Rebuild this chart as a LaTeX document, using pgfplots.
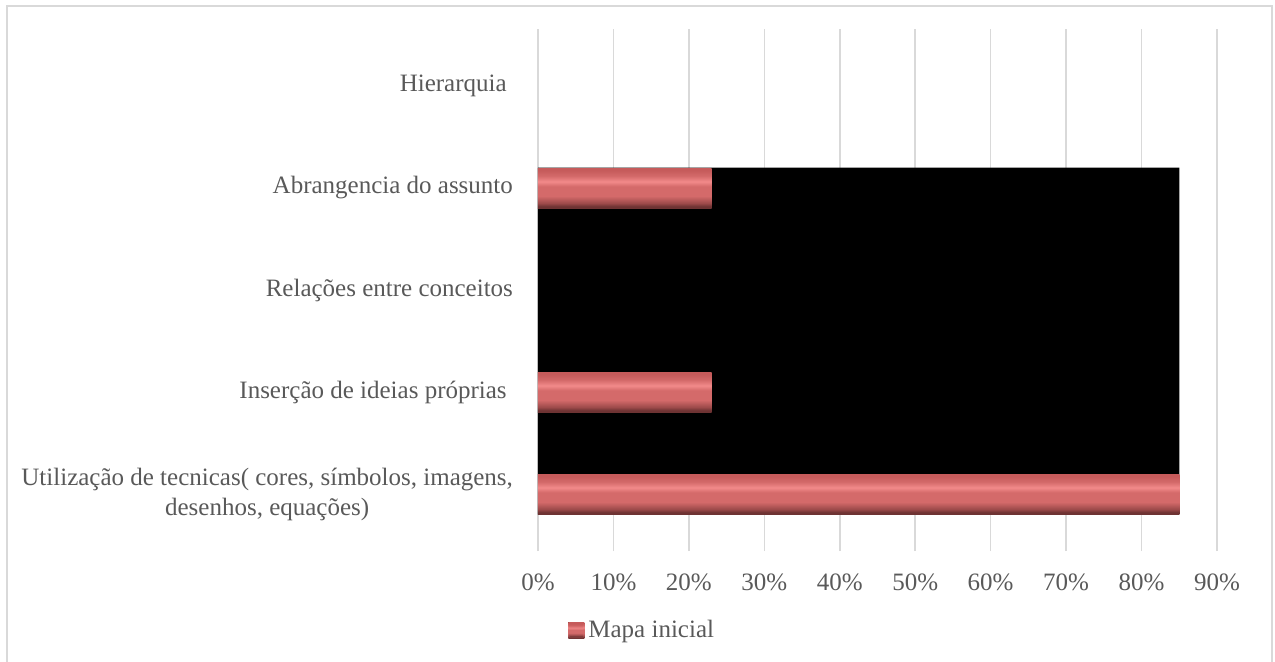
\documentclass[border=0pt]{standalone}
\usepackage{pgfplots}
\pgfplotsset{compat=1.18}
\usepackage{fontspec}
\setmainfont{Liberation Serif}
\definecolor{txt}{HTML}{595959}
\definecolor{gridc}{HTML}{D9D9D9}
\definecolor{bA}{HTML}{C65B5B}
\definecolor{bB}{HTML}{F28A8A}
\definecolor{bC}{HTML}{D46A6A}
\definecolor{bD}{HTML}{9C4A4A}
\definecolor{bE}{HTML}{6E3333}
\pgfdeclareverticalshading{bevel}{100bp}{color(0bp)=(bE); color(27bp)=(bE); color(31bp)=(bD); color(40bp)=(bC); color(52bp)=(bC); color(58bp)=(bB); color(65bp)=(bC); color(72bp)=(bA); color(100bp)=(bA)}
\pgfplotsset{bevelbar/.style={xbar, bar width=20pt, bar shift=0pt, draw=none, shading=bevel}}
\begin{document}
\begin{tikzpicture}
\path[use as bounding box] (0,0) rectangle (637.5pt,330.5pt);
\draw[gridc, line width=0.8pt] (3.5pt,-2pt) -- (3.5pt,327.5pt) -- (636pt,327.5pt) -- (636pt,-2pt);
\begin{axis}[
  at={(269pt,58pt)}, anchor=south west,
  scale only axis, width=339.5pt, height=255pt,
  xmin=0, xmax=90, ymin=-0.5, ymax=4.5,
  xtick={0,10,...,90},
  xticklabel={\pgfmathprintnumber{\tick}\%},
  xmajorgrids, grid style={gridc, line width=0.8pt},
  tick align=outside, major tick length=3pt,
  xtick style={gridc, line width=0.8pt},
  ytick={0,1,2,3,4},
  yticklabels={{Utilização de tecnicas( cores, símbolos, imagens,\\desenhos, equações)},{Inserção de ideias próprias\ },{Relações entre conceitos},{Abrangencia do assunto},{Hierarquia\ }},
  ytick style={draw=none},
  axis line style={draw=none},
  tick label style={font=\fontsize{12.5}{15}\selectfont, text=txt},
  yticklabel style={align=center, xshift=-6pt},
  xticklabel style={yshift=-8pt},
  /pgf/number format/assume math mode=true,
  legend style={at={(0.155,-0.167)}, anchor=center, draw=none, fill=none, font=\fontsize{12.5}{15}\selectfont, text=txt, inner sep=0pt},
  legend cell align=left,
]
\addplot[fill=black, draw=none, forget plot] coordinates {(0,-0.2) (85,-0.2) (85,3.2) (0,3.2) (0,-0.2)};
\addplot[bevelbar,
  legend image code/.code={\fill[bE] (0pt,-4pt) rectangle (8pt,4pt); \fill[shading=bevel] (0.6pt,-3.4pt) rectangle (7.4pt,3.4pt);}]
  coordinates {(85,0)};
\addlegendentry{Mapa inicial}
\addplot[bevelbar, forget plot] coordinates {(23,1)};
\addplot[bevelbar, forget plot] coordinates {(0,2)};
\addplot[bevelbar, forget plot] coordinates {(23,3)};
\addplot[bevelbar, forget plot] coordinates {(0,4)};
\end{axis}
\end{tikzpicture}
\end{document}
